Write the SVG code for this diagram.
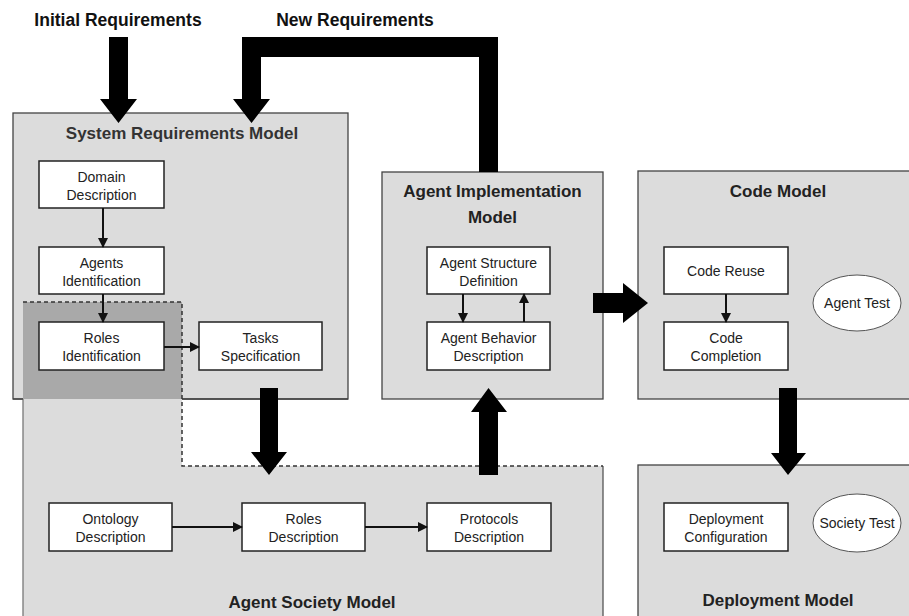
<svg xmlns="http://www.w3.org/2000/svg" width="909" height="616" viewBox="0 0 909 616">
<style>
  .container { fill: #dcdcdc; stroke: #444; stroke-width: 1.3; }
  .box { fill: #ffffff; stroke: #222; stroke-width: 1.5; }
  .ell { fill: #ffffff; stroke: #555; stroke-width: 1; }
  .t { font-family: "Liberation Sans", Arial, sans-serif; font-size: 14px; fill: #222; text-anchor: middle; }
  .title { font-family: "Liberation Sans", Arial, sans-serif; font-size: 17px; font-weight: bold; fill: #222; text-anchor: middle; }
  .head { font-family: "Liberation Sans", Arial, sans-serif; font-size: 17.5px; font-weight: bold; fill: #111; text-anchor: middle; }
  .thin { stroke: #111; stroke-width: 2; fill: none; marker-end: url(#ah); }
  .thick { fill: #000; }
  .dash { fill: none; stroke: #333; stroke-width: 1.5; stroke-dasharray: 4 3; }
</style>
<defs>
  <marker id="ah" markerWidth="10" markerHeight="10" refX="9" refY="5" orient="auto" markerUnits="userSpaceOnUse">
    <path d="M0,0 L10,5 L0,10 Z" fill="#111"/>
  </marker>
</defs>
<rect width="909" height="616" fill="#ffffff"/>

<text class="head" x="118" y="26">Initial Requirements</text>
<text class="head" x="355" y="26">New Requirements</text>

<g id="system-requirements-model">
  <rect class="container" x="13" y="113" width="335" height="286"/>
  <text class="title" x="182" y="139" style="fill:#333">System Requirements Model</text>
</g>

<g id="agent-society-model">
  <path d="M23,302 L182,302 L182,466 L603,466 L603,620 L23,620 Z" fill="#dcdcdc" stroke="none"/>
  <rect x="23" y="302" width="159" height="97" fill="#a9a9a9"/>
  <line x1="23" y1="399" x2="23" y2="620" stroke="#777" stroke-width="1.3"/>
  <line x1="603" y1="466" x2="603" y2="620" stroke="#555" stroke-width="1.3"/>
  <line x1="13" y1="399" x2="23" y2="399" stroke="#444" stroke-width="1.3"/>
  <line x1="182" y1="399" x2="348" y2="399" stroke="#444" stroke-width="1.3"/>
  <path class="dash" d="M23,302 L182,302 L182,466 L603,466"/>
  <text class="title" x="312" y="608">Agent Society Model</text>
</g>

<g id="domain-description">
  <rect class="box" x="39" y="161" width="125" height="47"/>
  <text class="t" x="101.5" y="182">Domain</text>
  <text class="t" x="101.5" y="200">Description</text>
</g>
<g id="agents-identification">
  <rect class="box" x="39" y="247" width="125" height="47"/>
  <text class="t" x="101.5" y="268">Agents</text>
  <text class="t" x="101.5" y="286">Identification</text>
</g>
<g id="roles-identification">
  <rect class="box" x="39" y="322" width="125" height="48"/>
  <text class="t" x="101.5" y="343">Roles</text>
  <text class="t" x="101.5" y="361">Identification</text>
</g>
<g id="tasks-specification">
  <rect class="box" x="199" y="322" width="123" height="48"/>
  <text class="t" x="260.5" y="343">Tasks</text>
  <text class="t" x="260.5" y="361">Specification</text>
</g>

<g id="agent-implementation-model">
  <rect class="container" x="382" y="172" width="221" height="227"/>
  <text class="title" x="492.5" y="197">Agent Implementation</text>
  <text class="title" x="492.5" y="223">Model</text>
</g>
<g id="agent-structure-definition">
  <rect class="box" x="427" y="247" width="123" height="47"/>
  <text class="t" x="488.5" y="268">Agent Structure</text>
  <text class="t" x="488.5" y="286">Definition</text>
</g>
<g id="agent-behavior-description">
  <rect class="box" x="427" y="322" width="123" height="48"/>
  <text class="t" x="488.5" y="343">Agent Behavior</text>
  <text class="t" x="488.5" y="361">Description</text>
</g>

<g id="code-model">
  <rect class="container" x="638" y="171" width="280" height="228"/>
  <text class="title" x="778" y="197">Code Model</text>
</g>
<g id="code-reuse">
  <rect class="box" x="664" y="247" width="124" height="47"/>
  <text class="t" x="726" y="276">Code Reuse</text>
</g>
<g id="code-completion">
  <rect class="box" x="664" y="322" width="124" height="48"/>
  <text class="t" x="726" y="343">Code</text>
  <text class="t" x="726" y="361">Completion</text>
</g>
<g id="agent-test">
  <ellipse class="ell" cx="857" cy="303" rx="44" ry="28"/>
  <text class="t" x="857" y="308">Agent Test</text>
</g>

<g id="deployment-model">
  <rect class="container" x="638" y="465" width="280" height="160"/>
  <text class="title" x="778" y="606">Deployment Model</text>
</g>
<g id="deployment-configuration">
  <rect class="box" x="664" y="503" width="124" height="48"/>
  <text class="t" x="726" y="524">Deployment</text>
  <text class="t" x="726" y="542">Configuration</text>
</g>
<g id="society-test">
  <ellipse class="ell" cx="857" cy="523" rx="44" ry="29"/>
  <text class="t" x="857" y="528">Society Test</text>
</g>

<g id="ontology-description">
  <rect class="box" x="49" y="503" width="123" height="48"/>
  <text class="t" x="110.5" y="524">Ontology</text>
  <text class="t" x="110.5" y="542">Description</text>
</g>
<g id="roles-description">
  <rect class="box" x="242" y="503" width="123" height="48"/>
  <text class="t" x="303.5" y="524">Roles</text>
  <text class="t" x="303.5" y="542">Description</text>
</g>
<g id="protocols-description">
  <rect class="box" x="427" y="503" width="124" height="48"/>
  <text class="t" x="489" y="524">Protocols</text>
  <text class="t" x="489" y="542">Description</text>
</g>

<g id="connectors">
  <polygon class="thick" points="109,37 128,37 128,99 137,99 118.5,123 100,99 109,99"/>
  <polygon class="thick" points="498,172 498,37 242,37 242,99 233,99 251.5,123 270,99 261,99 261,57 479,57 479,172"/>
  <polygon class="thick" points="260,388 278,388 278,452 287,452 269,475 251,452 260,452"/>
  <polygon class="thick" points="479,475 498,475 498,412 507,412 488.5,388 471,412 479,412"/>
  <polygon class="thick" points="593,293 623,293 623,283 648,303 623,323 623,313 593,313"/>
  <polygon class="thick" points="779,388 797,388 797,453 806,453 788,475 771,453 779,453"/>
  <line class="thin" x1="103" y1="208" x2="103" y2="247"/>
  <line class="thin" x1="103" y1="294" x2="103" y2="322"/>
  <line class="thin" x1="164" y1="347" x2="199" y2="347"/>
  <line class="thin" x1="463" y1="294" x2="463" y2="322"/>
  <line class="thin" x1="524" y1="322" x2="524" y2="294"/>
  <line class="thin" x1="726" y1="294" x2="726" y2="322"/>
  <line class="thin" x1="172" y1="527" x2="242" y2="527"/>
  <line class="thin" x1="365" y1="527" x2="427" y2="527"/>
</g>
</svg>
